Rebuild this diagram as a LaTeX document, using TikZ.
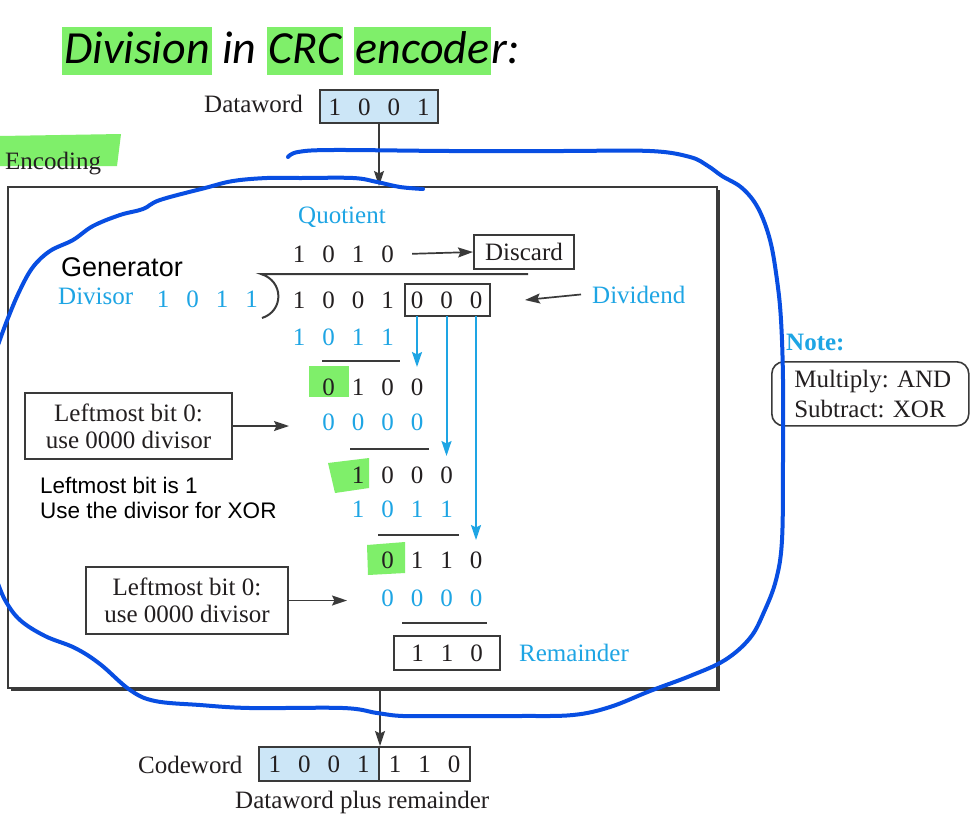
\documentclass[tikz,border=0pt]{standalone}
\usepackage{fontspec}
\setmainfont{Liberation Serif}
\newfontfamily\sansf{Liberation Sans}
\newfontfamily\calib{Carlito}
\usetikzlibrary{arrows.meta}
\definecolor{hlgreen}{RGB}{127,239,106}
\definecolor{cblue}{RGB}{30,165,228}
\definecolor{penblue}{RGB}{8,78,226}
\definecolor{dwblue}{RGB}{204,230,247}
\definecolor{boxgray}{RGB}{58,58,58}
\definecolor{ink}{RGB}{35,31,32}
\newcommand\hlword[1]{{\setlength\fboxsep{0pt}\colorbox{hlgreen}{\rule[-12pt]{0pt}{48pt}\kern2pt#1\kern2pt}}}
\newcommand\dsp{\hspace{17pt}}
\begin{document}
\begin{tikzpicture}[x=1pt,y=-1pt,
  txt/.style={font=\fontsize{25}{27}\selectfont, text=ink, inner sep=0pt},
  btxt/.style={txt, text=cblue},
  dig/.style={txt, anchor=base west},
  bdig/.style={dig, text=cblue},
  boxed/.style={draw=boxgray, line width=2pt},
  arr/.style={-{Stealth[length=15pt,width=10pt,inset=2.5pt]}, draw=boxgray, line width=1.7pt},
  barr/.style={-{Stealth[length=15pt,width=10pt,inset=2.5pt]}, draw=cblue, line width=2pt},
  barline/.style={draw=boxgray, line width=2pt},
  pen/.style={draw=penblue, line width=4pt, line cap=round, line join=round}
]
\useasboundingbox (0,0) rectangle (971,833);
\fill[white] (0,0) rectangle (971,833);

% title
\node[anchor=base west, inner sep=0pt, font=\calib\itshape\fontsize{46}{50}\selectfont] (title) at (62,63)
  {\hlword{Division} in \hlword{CRC} \hlword{encode}r:};

% dataword
\node[txt, anchor=base east] (dwlabel) at (303,112) {Dataword};
\node[boxed, txt, fill=dwblue, minimum width=118pt, minimum height=33pt, text height=17pt, text depth=0pt, anchor=north west] (dwbox) at (319,89) {1\dsp0\dsp0\dsp1};

% encoding label
\fill[hlgreen] (0,136) -- (121,134) -- (117,166) -- (0,166) -- cycle;
\node[txt, anchor=base west] (enc) at (5,169) {Encoding};

% big box with shadow
\fill[boxgray] (11,190) rectangle (720,691);
\node[boxed, fill=white, minimum width=709pt, minimum height=501pt, anchor=north west, inner sep=0pt] (bigbox) at (7,186) {};
\draw[arr] (dwbox.south) -- (dwbox.south |- bigbox.north);

% green highlights in the division
\fill[hlgreen] (309,366) rectangle (349,397);
\fill[hlgreen] (328,463) -- (369,458) -- (369,488) -- (335,493) -- cycle;
\fill[hlgreen] (367,545) -- (405,542) -- (405,573) -- (368,575) -- cycle;

% labels
\node[btxt, anchor=base west] (quotlbl) at (298,223) {Quotient};
\node[anchor=base west, inner sep=0pt, font=\sansf\fontsize{27}{30}\selectfont] (gen) at (61,276) {Generator};
\node[btxt, anchor=base west] (divlbl) at (58,304) {Divisor};
\node[bdig] (divdig) at (156.75,307) {1\dsp0\dsp1\dsp1};

% quotient and discard
\node[dig] (quot) at (292.75,262) {1\dsp0\dsp1\dsp0};
\node[boxed, txt, minimum width=100pt, minimum height=34pt, text height=17pt, text depth=0pt, anchor=north west] (discard) at (473,234) {Discard};
\draw[arr] ([xshift=18pt]quot.east) -- (discard.west);

% division bar and bracket
\coordinate (barL) at (261,274);
\coordinate (barR) at (528,274);
\coordinate (brB) at (262,318);
\draw[barline] (barR) -- (barL) .. controls (284,281) and (284,311) .. (brB);

% dividend
\node[dig] (dvd) at (292.75,308) {1\dsp0\dsp0\dsp1\dsp0\dsp0\dsp0};
\node[boxed, minimum width=85pt, minimum height=32pt, anchor=north west, inner sep=0pt] (dvdbox) at (404,283) {};
\node[btxt, anchor=base west] (dvdlbl) at (592,303) {Dividend};
\draw[arr] ([xshift=-11pt]dvdlbl.west) -- ([xshift=34pt]dvdbox.east);

% rows
\node[bdig] (r1) at (292.75,345) {1\dsp0\dsp1\dsp1};
\node[dig] (r2) at (322.25,395) {0\dsp1\dsp0\dsp0};
\node[bdig] (r3) at (322.25,430) {0\dsp0\dsp0\dsp0};
\node[dig] (r4) at (351.75,483) {1\dsp0\dsp0\dsp0};
\node[bdig] (r5) at (351.75,517) {1\dsp0\dsp1\dsp1};
\node[dig] (r6) at (381.25,568) {0\dsp1\dsp1\dsp0};
\node[bdig] (r7) at (381.25,606) {0\dsp0\dsp0\dsp0};

% subtraction lines
\coordinate (l1a) at (322,361); \coordinate (l1b) at (400,361);
\coordinate (l2a) at (350,449); \coordinate (l2b) at (429,449);
\coordinate (l3a) at (378,535); \coordinate (l3b) at (459,535);
\coordinate (l4a) at (402,623); \coordinate (l4b) at (487,623);
\draw[barline] (l1a) -- (l1b);
\draw[barline] (l2a) -- (l2b);
\draw[barline] (l3a) -- (l3b);
\draw[barline] (l4a) -- (l4b);

% remainder
\node[boxed, txt, minimum width=106pt, minimum height=34pt, text height=17pt, text depth=0pt, anchor=north west] (rem) at (393,635) {1\dsp1\dsp0};
\node[btxt, anchor=base west] (remlbl) at (519,661) {Remainder};

% blue bring-down arrows
\coordinate (a1s) at (417,316); \coordinate (a1e) at (417,367);
\coordinate (a2s) at (446.5,316); \coordinate (a2e) at (446.5,456);
\coordinate (a3s) at (476,316); \coordinate (a3e) at (476,540);
\draw[barr] (a1s) -- (a1e);
\draw[barr] (a2s) -- (a2e);
\draw[barr] (a3s) -- (a3e);

% leftmost boxes
\node[boxed, txt, align=center, minimum width=207pt, minimum height=66pt, anchor=north west] (lb1) at (24,392) {\raisebox{-3pt}{Leftmost bit 0:}\\\raisebox{-3pt}{use 0000 divisor}};
\draw[arr] (lb1.east) -- ++(56,0) coordinate (lb1t);
\node[anchor=north west, inner sep=0pt, align=left, font=\sansf\fontsize{22.5}{24.5}\selectfont] (lb1note) at (40,477) {Leftmost bit is 1\\Use the divisor for XOR};
\node[boxed, txt, align=center, minimum width=202pt, minimum height=67pt, anchor=north west] (lb2) at (85,566) {Leftmost bit 0:\\use 0000 divisor};
\draw[arr] (lb2.east) -- ++(58,0) coordinate (lb2t);

% note
\node[btxt, anchor=base west, font={\fontsize{25}{27}\selectfont\bfseries}] (notelbl) at (786,350) {Note:};
\node[draw=boxgray, line width=1.6pt, rounded corners=12pt, txt, align=flush left, text width=182pt, inner xsep=0pt, minimum width=197pt, minimum height=64pt, anchor=north west, font=\fontsize{25}{30}\selectfont] (notebox) at (771,361) {\hspace*{15pt}Multiply: AND\\\hspace*{15pt}Subtract: XOR};

% codeword
\node[txt, anchor=base west] (cwlbl) at (138,773) {Codeword};
\node[boxed, txt, fill=dwblue, minimum width=120pt, minimum height=34pt, text height=17pt, text depth=0pt, anchor=north west] (cwleft) at (258,746) {1\dsp0\dsp0\dsp1};
\node[boxed, txt, minimum width=91pt, minimum height=34pt, text height=17pt, text depth=0pt, anchor=north west] (cwright) at (378,746) {1\dsp1\dsp0};
\draw[arr] (cwleft.north east |- bigbox.south) -- (cwleft.north east);
\node[txt, anchor=base west] (cwsub) at (235,808) {Dataword plus remainder};

% hand-drawn pen strokes
\draw[pen] plot[smooth, tension=0.6] coordinates {
 (288,157) (298,152) (333,150) (450,151) (560,151) (650,151) (690,157) (708,166)
 (722,176) (742,188) (758,208) (770,240) (777,280) (781,320) (783,380)
 (783,460) (782,540) (776,580) (764,612) (750,638) (725,660) (690,676)
 (650,691) (610,707) (573,715) (520,716) (450,716) (403,716) (377,713)
 (343,708) (250,708) (200,705) (155,701) (130,690) (100,664) (75,648)
 (45,636) (20,620) (5,600) (-4,578)};
\draw[pen] plot[smooth, tension=0.6] coordinates {
 (423,189) (400,187) (377,182) (353,178) (300,178) (267,178) (233,181) (205,188)
 (160,200) (143,209) (120,215) (93,226) (73,240) (50,251) (33,267) (20,290)
 (8,318) (-2,345)};
\end{tikzpicture}
\end{document}
